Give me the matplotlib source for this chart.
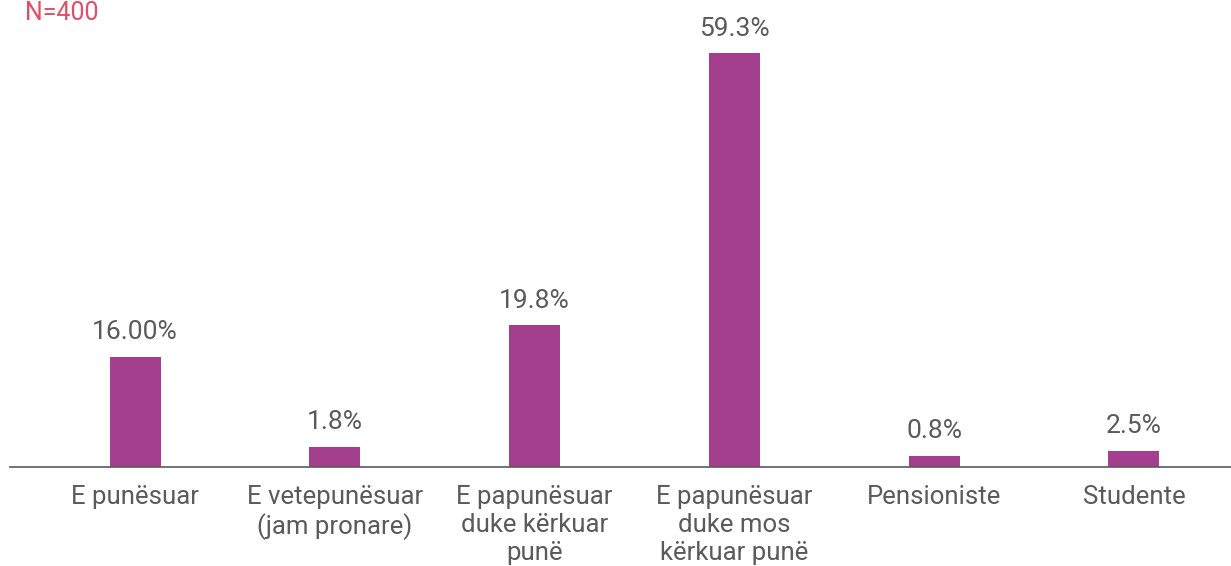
import numpy as np
import matplotlib.pyplot as plt

categories = ["E punësuar", "E vetepunësuar\n(jam pronare)", "E papunësuar\nduke kërkuar\npunë",
              "E papunësuar\nduke mos\nkërkuar punë", "Pensioniste", "Studente"]
# bar heights as drawn in the picture (small bars are drawn a bit taller than their labels)
heights = [15.8, 2.9, 20.3, 59.3, 1.6, 2.3]
value_labels = ["16.00%", "1.8%", "19.8%", "59.3%", "0.8%", "2.5%"]

bar_color = "#A43E8E"
text_color = "#5a5a5a"

plt.rcParams['font.family'] = ['Roboto', 'DejaVu Sans']

fig = plt.figure(figsize=(12.31, 5.66), dpi=100)
ax = fig.add_axes([10/1231, (566-467)/566, 1221/1231, 467/566])

x = np.arange(len(categories))
bars = ax.bar(x, heights, width=0.255, color=bar_color)

# value labels above the bars
for b, lab in zip(bars, value_labels):
    ax.annotate(lab, (b.get_x() + b.get_width()/2, b.get_height()),
                xytext=(0, 9), textcoords="offset points",
                ha="center", va="bottom", fontsize=19, color=text_color)

ax.set_xlim(-0.626, 5.486)
ax.set_ylim(0, 66.9)
ax.set_xticks(x)
ax.set_xticklabels(categories, fontsize=18.5, color=text_color, linespacing=1.2)
ax.tick_params(axis="x", length=0, pad=13)
ax.set_yticks([])
for s in ["top", "left", "right"]:
    ax.spines[s].set_visible(False)
ax.spines["bottom"].set_color(text_color)
ax.spines["bottom"].set_linewidth(1.2)

fig.text(25/1231, 1 - 20/566, "N=400", fontsize=18, color="#DF4F69", ha="left", va="baseline")

fig.savefig("out.png", dpi=100)
